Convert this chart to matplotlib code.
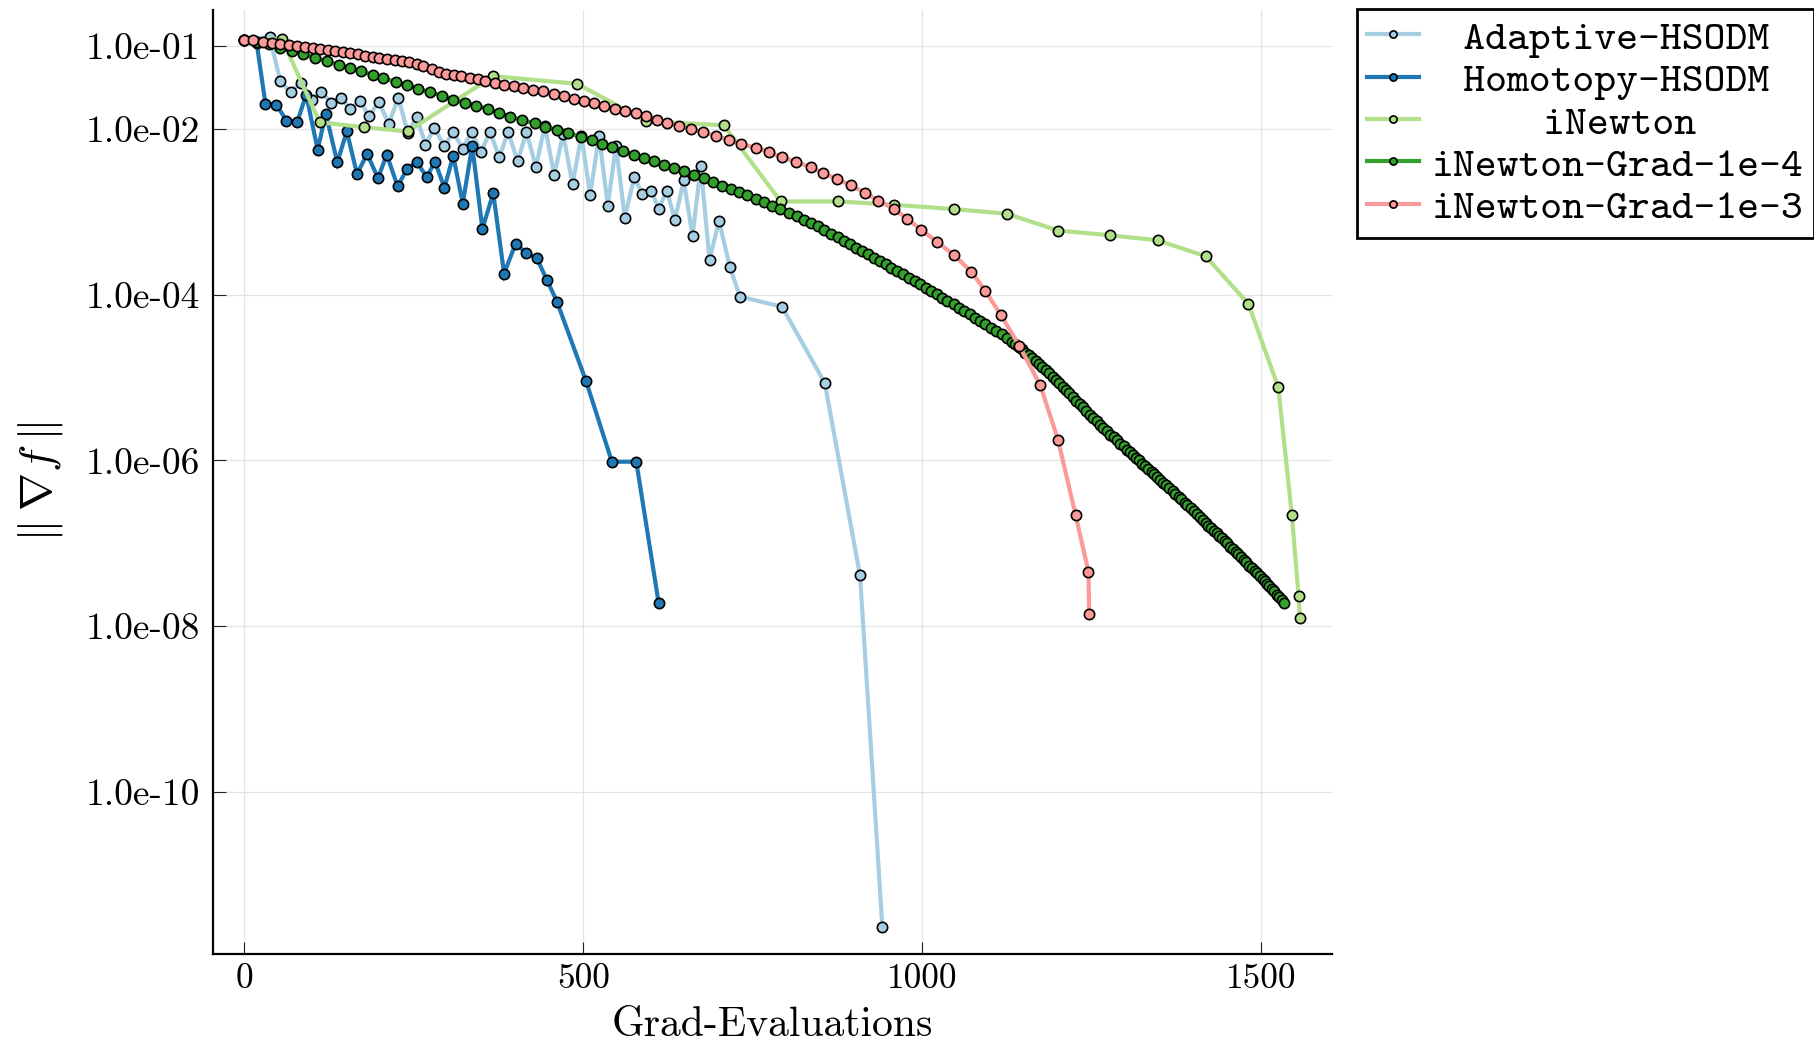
import numpy as np
import matplotlib
matplotlib.use("Agg")
import matplotlib.pyplot as plt
from matplotlib.ticker import NullLocator

# ---------------- data (log10 of ||grad f||) ----------------
series_names = ["Adaptive-HSODM", "Homotopy-HSODM", "iNewton",
                "iNewton-Grad-1e-4", "iNewton-Grad-1e-3"]
series_colors = ["#a6cee3", "#1f78b4", "#b2df8a", "#33a02c", "#fb9a99"]

adaptive_x = [0, 37, 53, 68, 83, 99, 113, 128, 142, 156, 170, 184, 198, 213, 227, 241, 254, 267,
              280, 295, 308, 322, 335, 349, 362, 376, 389, 403, 416, 430, 443, 457, 470, 484, 497,
              510, 523, 536, 548, 561, 575, 587, 600, 611, 623, 635, 648, 661, 673, 686, 700, 716,
              731, 793, 856, 908, 941]
adaptive_log = [-0.927, -0.887, -1.423, -1.556, -1.444, -1.645, -1.55, -1.683, -1.623, -1.762,
                -1.657, -1.849, -1.669, -1.94, -1.621, -2.05, -1.855, -2.19, -1.988, -2.21,
                -2.036, -2.238, -2.036, -2.278, -2.036, -2.339, -2.036, -2.391, -2.036, -2.46,
                -1.96, -2.559, -2.06, -2.664, -2.08, -2.796, -2.08, -2.926, -2.2, -3.07,
                -2.584, -2.785, -2.744, -2.966, -2.744, -3.095, -2.62, -3.296, -2.443, -3.581,
                -3.107, -3.666, -4.025, -4.146, -5.065, -7.389, -11.635]

homotopy_x = [0, 18, 31, 47, 62, 78, 91, 108, 120, 137, 151, 166, 181, 197, 210, 226, 240, 254,
              269, 281, 295, 308, 322, 336, 351, 367, 383, 400, 416, 431, 446, 461, 504, 542,
              578, 611]
homotopy_log = [-0.927, -0.96, -1.698, -1.706, -1.899, -1.915, -1.585, -2.25, -1.815, -2.403,
                -2.028, -2.544, -2.302, -2.593, -2.31, -2.694, -2.48, -2.399, -2.58, -2.395,
                -2.71, -2.323, -2.90, -2.202, -3.205, -2.774, -3.746, -3.385, -3.50, -3.556,
                -3.82, -4.085, -5.046, -6.016, -6.016, -7.722]

inewton_x = [0, 55, 111, 177, 241, 367, 491, 593, 707, 791, 875, 958, 1047, 1125, 1200, 1277,
             1347, 1418, 1481, 1525, 1545, 1555, 1557]
inewton_log = [-0.927, -0.91, -1.92, -1.98, -2.03, -1.363, -1.456, -1.907, -1.956, -2.875,
               -2.875, -2.915, -2.968, -3.024, -3.226, -3.284, -3.344, -3.537, -4.113, -5.119,
               -6.66, -7.64, -7.90]

grad4_x = [0, 18, 36, 53, 70, 87, 104, 122, 139, 155, 172, 189, 205, 223, 240, 256, 274, 291,
           308, 325, 342, 359, 376, 392, 410, 428, 444, 461, 478, 497, 512, 527, 542, 558, 574,
           589, 604, 619, 634, 649, 663, 678, 691, 704, 717, 729, 742, 755, 767, 778, 790, 803,
           815, 826, 836, 846, 855, 865, 875, 884, 893, 902, 911, 920, 928, 937, 946, 954, 963,
           972, 980, 989, 997, 1005, 1013, 1021, 1029, 1037, 1046, 1054, 1062, 1070, 1078, 1085,
           1093, 1101, 1109, 1117, 1125, 1132,
           1137, 1142, 1147, 1152, 1157, 1162, 1167, 1172, 1177, 1182, 1187, 1192, 1197, 1202,
           1207, 1212, 1217, 1222, 1227, 1232, 1237, 1242, 1247, 1252, 1257, 1262, 1267, 1272,
           1277, 1282, 1287, 1292, 1297, 1302, 1306, 1310, 1315, 1320, 1324, 1328, 1333, 1338,
           1342, 1346, 1351, 1355, 1360, 1364, 1369, 1373, 1378, 1382, 1387, 1391, 1396, 1400,
           1405, 1409, 1414, 1418, 1422, 1426, 1430, 1434, 1438, 1442, 1446, 1450, 1454, 1458,
           1462, 1466, 1470, 1474, 1478, 1482, 1486, 1490, 1494, 1498, 1502, 1505, 1509, 1512,
           1516, 1519, 1523, 1526, 1530, 1534]
grad4_log = [-0.927, -0.95, -0.98, -1.02, -1.06, -1.10, -1.141, -1.185, -1.226, -1.266, -1.306,
             -1.347, -1.391, -1.431, -1.472, -1.512, -1.56, -1.597, -1.645, -1.685, -1.718,
             -1.758, -1.806, -1.855, -1.895, -1.931, -1.976, -2.016, -2.05, -2.098, -2.139,
             -2.177, -2.222, -2.262, -2.31, -2.351, -2.383, -2.431, -2.472, -2.512, -2.56,
             -2.593, -2.641, -2.685, -2.722, -2.762, -2.802, -2.843, -2.883, -2.927, -2.968,
             -3.012, -3.052, -3.097, -3.137, -3.177, -3.218, -3.266, -3.306, -3.351, -3.387,
             -3.431, -3.472, -3.512, -3.552, -3.593, -3.633, -3.673, -3.714, -3.754, -3.794,
             -3.835, -3.875, -3.915, -3.956, -3.996, -4.036, -4.077, -4.117, -4.157, -4.198,
             -4.238, -4.278, -4.319, -4.359, -4.399, -4.44, -4.48, -4.528, -4.569,
             -4.60, -4.63, -4.66, -4.70, -4.73, -4.76, -4.80, -4.84, -4.87, -4.91, -4.95, -4.99,
             -5.03, -5.07, -5.11, -5.15, -5.19, -5.23, -5.28, -5.32, -5.36, -5.41, -5.45, -5.49,
             -5.53, -5.57, -5.61, -5.65, -5.69, -5.72, -5.76, -5.80, -5.83, -5.87, -5.90, -5.93,
             -5.97, -6.00, -6.04, -6.07, -6.10, -6.14, -6.17, -6.20, -6.24, -6.27, -6.30, -6.33,
             -6.37, -6.40, -6.44, -6.47, -6.51, -6.54, -6.58, -6.61, -6.65, -6.68, -6.72, -6.76,
             -6.79, -6.82, -6.85, -6.88, -6.91, -6.94, -6.97, -7.00, -7.04, -7.07, -7.10, -7.13,
             -7.17, -7.20, -7.23, -7.27, -7.30, -7.33, -7.36, -7.40, -7.43, -7.45, -7.49, -7.52,
             -7.55, -7.58, -7.62, -7.65, -7.68, -7.72]

grad3_x = [0, 12, 27, 40, 53, 65, 78, 90, 101, 112, 123, 134, 145, 156, 167, 178, 189, 199, 210,
           222, 232, 243, 254, 264, 276, 287, 298, 309, 320, 332, 344, 355, 369, 383, 397, 411,
           426, 441, 456, 471, 486, 501, 516, 531, 546, 562, 577, 592, 608, 623, 641, 658, 677,
           696, 715, 733, 755, 774, 793, 814, 835, 853, 874, 894, 916, 935, 958, 977, 998, 1021,
           1047, 1072, 1093, 1116, 1143, 1174, 1200, 1226, 1245, 1246]
grad3_log = [-0.927, -0.931, -0.948, -0.960, -0.972, -0.988, -1.000, -1.012, -1.020, -1.036,
             -1.048, -1.060, -1.077, -1.089, -1.101, -1.117, -1.129, -1.141, -1.153, -1.169,
             -1.185, -1.198, -1.214, -1.245, -1.28, -1.315, -1.331, -1.351, -1.367, -1.383,
             -1.399, -1.423, -1.444, -1.464, -1.484, -1.504, -1.528, -1.548, -1.577, -1.603,
             -1.633, -1.66, -1.69, -1.718, -1.754, -1.782, -1.810, -1.843, -1.887, -1.923,
             -1.960, -2.0, -2.04, -2.089, -2.133, -2.181, -2.23, -2.278, -2.343, -2.399,
             -2.46, -2.532, -2.601, -2.681, -2.770, -2.867, -2.964, -3.081, -3.214, -3.359,
             -3.524, -3.722, -3.956, -4.25, -4.616, -5.095, -5.75, -6.66, -7.344, -7.859]

x_ticks = [0, 500, 1000, 1500]
x_tick_labels = ["0", "500", "1000", "1500"]
y_ticks = [1e-1, 1e-2, 1e-4, 1e-6, 1e-8, 1e-10]
y_tick_labels = ["1.0e-01", "1.0e-02", "1.0e-04", "1.0e-06", "1.0e-08", "1.0e-10"]

# legend labels centred with leading spaces (monospace font)
legend_labels = ["\u2002\u2005Adaptive-HSODM", "\u2002\u2005Homotopy-HSODM",
                 "\u2003\u2003\u2002\u2006iNewton", "iNewton-Grad-1e-4", "iNewton-Grad-1e-3"]

# ---------------- figure ----------------
plt.rcParams["mathtext.fontset"] = "cm"
plt.rcParams["axes.unicode_minus"] = False

fig = plt.figure(figsize=(18.14, 10.45), dpi=100)
ax = fig.add_axes([0.1173, 0.0871, 0.7341 - 0.1173, 0.9904 - 0.0871])

all_x = [adaptive_x, homotopy_x, inewton_x, grad4_x, grad3_x]
all_log = [adaptive_log, homotopy_log, inewton_log, grad4_log, grad3_log]

handles = []
for xs, ls, col, name in zip(all_x, all_log, series_colors, series_names):
    ys = 10.0 ** np.asarray(ls)
    h, = ax.plot(xs, ys, color=col, lw=3.0, marker="o", ms=7.4, mfc=col, mec="black",
                 mew=1.2, solid_joinstyle="miter", label=name)
    handles.append(h)

ax.set_yscale("log")
ax.set_xlim(-46.7, 1603.7)
ax.set_ylim(10 ** -11.957, 10 ** -0.565)

ax.set_xticks(x_ticks)
ax.set_xticklabels(x_tick_labels)
ax.set_yticks(y_ticks)
ax.set_yticklabels(y_tick_labels)
ax.yaxis.set_minor_locator(NullLocator())
ax.xaxis.set_minor_locator(NullLocator())

for lab in ax.get_xticklabels():
    lab.set_fontfamily("cmr10")
    lab.set_fontsize(25.5)
for lab in ax.get_yticklabels():
    lab.set_fontfamily("cmr10")
    lab.set_fontsize(27)

ax.tick_params(axis="both", direction="in", length=9, width=0.8, color="#222222")
ax.tick_params(axis="y", pad=9)
ax.tick_params(axis="x", pad=7)

ax.grid(True, color="#e4e4e4", lw=0.9)
ax.set_axisbelow(True)

for s in ["top", "right"]:
    ax.spines[s].set_visible(False)
for s in ["left", "bottom"]:
    ax.spines[s].set_linewidth(1.6)
    ax.spines[s].set_color("black")

ax.set_xlabel("Grad-Evaluations", fontfamily="cmr10", fontsize=30, labelpad=8)
ax.set_ylabel(r"$\|\:\nabla f\:\|$", fontsize=33, labelpad=15)

leg = ax.legend(handles, legend_labels, loc="upper left", bbox_to_anchor=(0.748, 0.991),
                bbox_transform=fig.transFigure, borderaxespad=0, frameon=True, fancybox=False,
                edgecolor="black", framealpha=1,
                prop={"family": ["cmtt10", "DejaVu Sans"], "size": 30},
                handlelength=1.25, handletextpad=0.3, labelspacing=0.1, borderpad=0.25,
                markerscale=0.7)
leg.get_frame().set_linewidth(2.0)

fig.savefig("out.png", dpi=100)
